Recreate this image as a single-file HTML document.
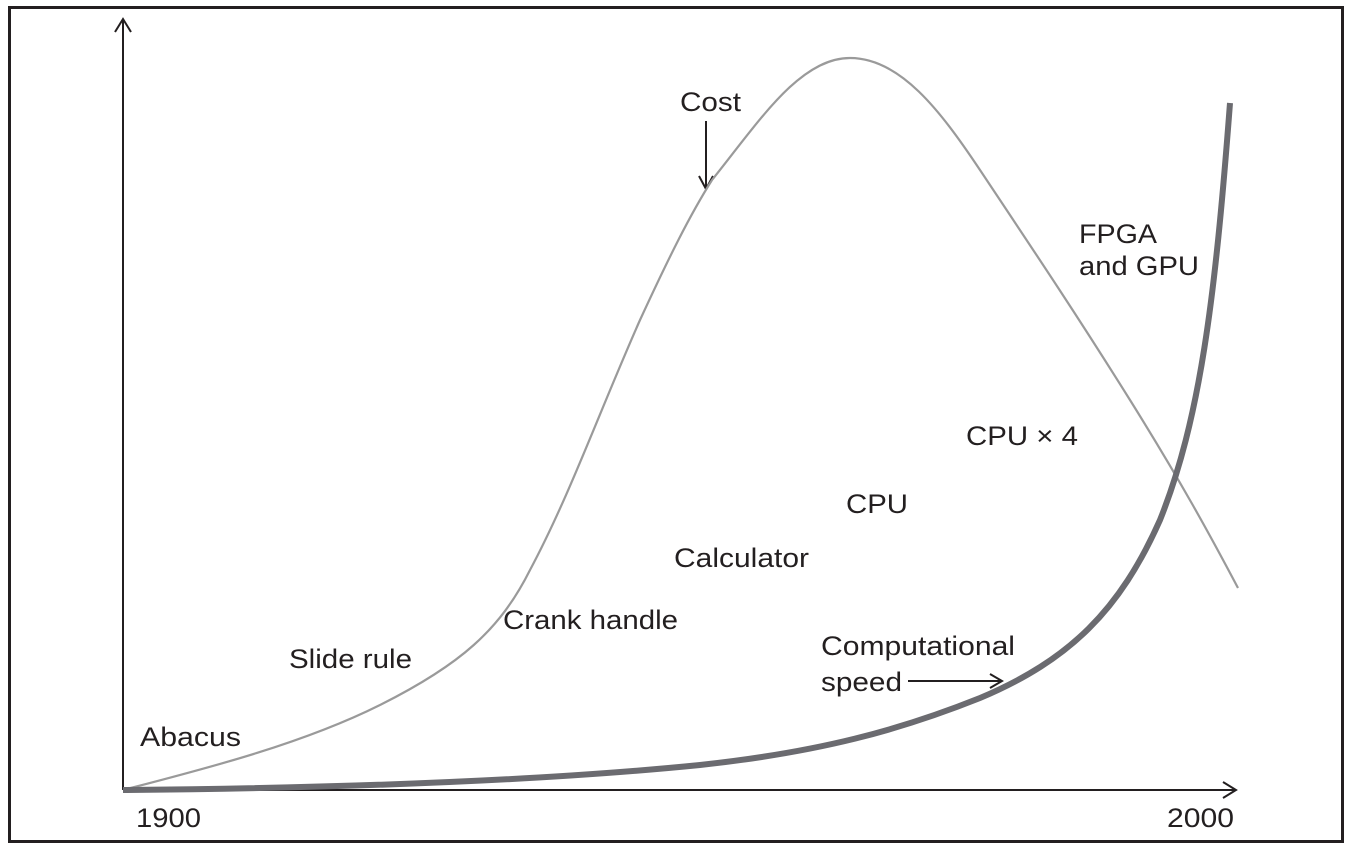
<!DOCTYPE html>
<html><head><style>
html,body{margin:0;padding:0;background:#fff;}
svg{display:block;}
text{font-family:"Liberation Sans",Arial,sans-serif;font-size:27px;fill:#231f20;}
</style></head><body>
<svg width="1352" height="846" viewBox="0 0 1352 846">
<rect x="9.5" y="7.5" width="1333" height="834" fill="#fff" stroke="#231f20" stroke-width="3"/>
<g stroke="#231f20" stroke-width="2" fill="none">
<line x1="123" y1="790" x2="123" y2="19"/>
<polyline points="115,32 123,19 131,32"/>
<line x1="123" y1="790" x2="1236" y2="790"/>
<polyline points="1223,782 1236,790 1223,798"/>
<line x1="706" y1="121" x2="706" y2="188"/>
<polyline points="699,176 706,189 713,176"/>
<line x1="908" y1="681" x2="1002" y2="681"/>
<polyline points="990,674 1002,681 990,688"/>
</g>
<path d="M123,790 C200,770 300,745 380,705 C460,665 500,630 530,570 C570,495 600,410 640,320 C670,255 690,215 712,180 C760,120 800,58 850,58 C900,58 940,110 980,170 C1040,260 1080,320 1130,400 C1180,480 1210,535 1238,588" fill="none" stroke="#9a9a9a" stroke-width="2.2"/>
<path d="M123,790 C350,788 550,780 700,765 C820,752 900,730 980,698 C1070,660 1120,610 1160,520 C1200,420 1215,300 1230,103" fill="none" stroke="#6b6b70" stroke-width="6"/>
<text x="680" y="111" textLength="61" lengthAdjust="spacingAndGlyphs">Cost</text>
<text x="1079" y="243" textLength="78" lengthAdjust="spacingAndGlyphs">FPGA</text>
<text x="1079" y="275" textLength="120" lengthAdjust="spacingAndGlyphs">and GPU</text>
<text x="966" y="445" textLength="112" lengthAdjust="spacingAndGlyphs">CPU × 4</text>
<text x="846" y="513" textLength="62" lengthAdjust="spacingAndGlyphs">CPU</text>
<text x="674" y="567" textLength="135" lengthAdjust="spacingAndGlyphs">Calculator</text>
<text x="503" y="629" textLength="175" lengthAdjust="spacingAndGlyphs">Crank handle</text>
<text x="289" y="668" textLength="123" lengthAdjust="spacingAndGlyphs">Slide rule</text>
<text x="140" y="746" textLength="101" lengthAdjust="spacingAndGlyphs">Abacus</text>
<text x="821" y="655" textLength="194" lengthAdjust="spacingAndGlyphs">Computational</text>
<text x="821" y="691" textLength="81" lengthAdjust="spacingAndGlyphs">speed</text>
<text x="136" y="827" textLength="65" lengthAdjust="spacingAndGlyphs">1900</text>
<text x="1167" y="827" textLength="67" lengthAdjust="spacingAndGlyphs">2000</text>
</svg>
</body></html>
